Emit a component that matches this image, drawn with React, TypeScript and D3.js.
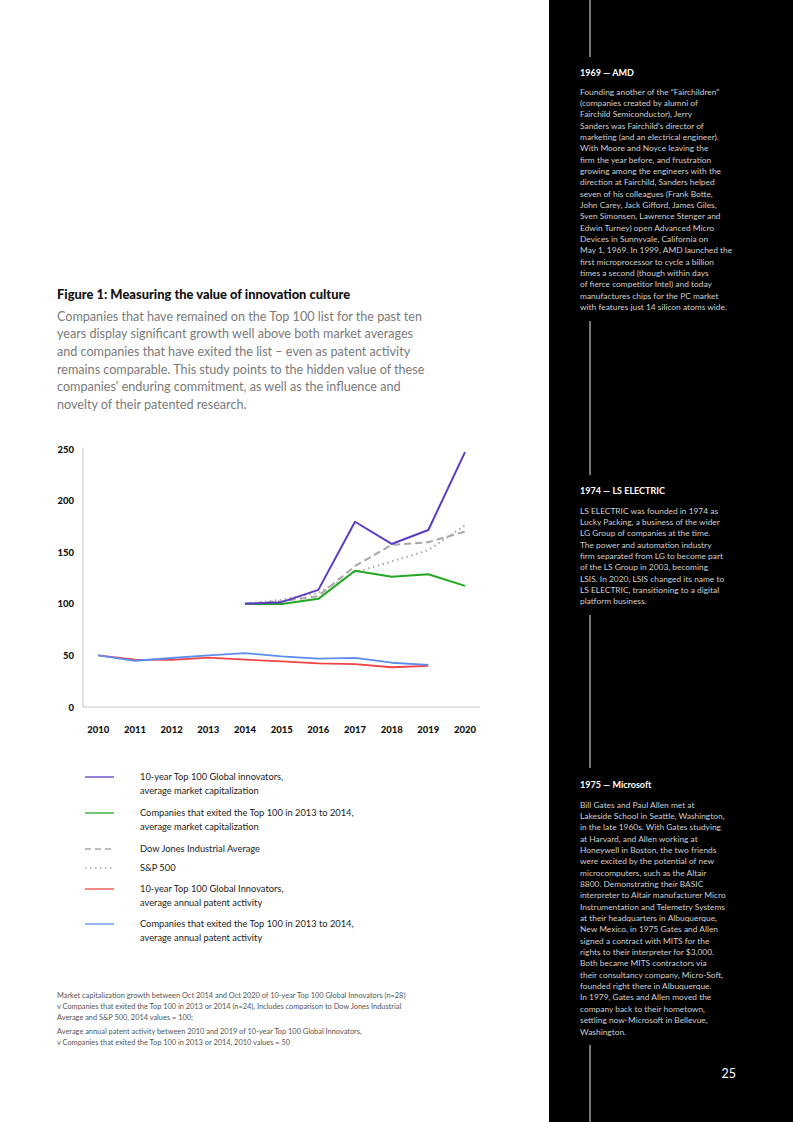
import React from "react";
import * as d3 from "d3";

const years = [2010, 2011, 2012, 2013, 2014, 2015, 2016, 2017, 2018, 2019, 2020];
const yTicks = [0, 50, 100, 150, 200, 250];

const capYears = [2014, 2015, 2016, 2017, 2018, 2019, 2020];
const top100Cap = [100, 101.6, 113.5, 179.5, 158, 171.5, 247];
const exitedCap = [100, 99.7, 104.8, 132, 126.2, 128.7, 117.4];
const dowJones = [100, 102.5, 107.5, 136.5, 157, 159.7, 170];
const sp500 = [100, 104, 110.5, 130.5, 141, 152, 176];

const patentYears = [2010, 2011, 2012, 2013, 2014, 2015, 2016, 2017, 2018, 2019];
const top100Patent = [50, 46, 45.6, 47.8, 45.9, 44.2, 42.3, 41.5, 38.5, 39.8];
const exitedPatent = [50, 44.8, 47.5, 50, 52.3, 49, 46.8, 47.6, 42.9, 40.8];

const legendItems = [
  { lines: ["10-year Top 100 Global innovators,", "average market capitalization"], color: "#5b3cc4", dash: "" },
  { lines: ["Companies that exited the Top 100 in 2013 to 2014,", "average market capitalization"], color: "#22a822", dash: "" },
  { lines: ["Dow Jones Industrial Average"], color: "#a8a8a8", dash: "6,4" },
  { lines: ["S&P 500"], color: "#a8a8a8", dash: "1.5,3.5" },
  { lines: ["10-year Top 100 Global Innovators,", "average annual patent activity"], color: "#f04444", dash: "" },
  { lines: ["Companies that exited the Top 100 in 2013 to 2014,", "average annual patent activity"], color: "#5b8ef0", dash: "" },
];

const subtitleLines = [
  "Companies that have remained on the Top 100 list for the past ten",
  "years display significant growth well above both market averages",
  "and companies that have exited the list \u2013 even as patent activity",
  "remains comparable. This study points to the hidden value of these",
  "companies' enduring commitment, as well as the influence and",
  "novelty of their patented research.",
];

const footnoteLines1 = [
  "Market capitalization growth between Oct 2014 and Oct 2020 of 10-year Top 100 Global Innovators (n=28)",
  "v Companies that exited the Top 100 in 2013 or 2014 (n=24), Includes comparison to Dow Jones Industrial",
  "Average and S&P 500, 2014 values = 100;",
];
const footnoteLines2 = [
  "Average annual patent activity between 2010 and 2019 of 10-year Top 100 Global Innovators,",
  "v Companies that exited the Top 100 in 2013 or 2014, 2010 values = 50",
];

const amdText = [
  "Founding another of the \u201CFairchildren\u201D",
  "(companies created by alumni of",
  "Fairchild Semiconductor), Jerry",
  "Sanders was Fairchild's director of",
  "marketing (and an electrical engineer).",
  "With Moore and Noyce leaving the",
  "firm the year before, and frustration",
  "growing among the engineers with the",
  "direction at Fairchild, Sanders helped",
  "seven of his colleagues (Frank Botte,",
  "John Carey, Jack Gifford, James Giles,",
  "Sven Simonsen, Lawrence Stenger and",
  "Edwin Turney) open Advanced Micro",
  "Devices in Sunnyvale, California on",
  "May 1, 1969. In 1999, AMD launched the",
  "first microprocessor to cycle a billion",
  "times a second (though within days",
  "of fierce competitor Intel) and today",
  "manufactures chips for the PC market",
  "with features just 14 silicon atoms wide.",
];
const lsText = [
  "LS ELECTRIC was founded in 1974 as",
  "Lucky Packing, a business of the wider",
  "LG Group of companies at the time.",
  "The power and automation industry",
  "firm separated from LG to become part",
  "of the LS Group in 2003, becoming",
  "LSIS. In 2020, LSIS changed its name to",
  "LS ELECTRIC, transitioning to a digital",
  "platform business.",
];
const msText = [
  "Bill Gates and Paul Allen met at",
  "Lakeside School in Seattle, Washington,",
  "in the late 1960s. With Gates studying",
  "at Harvard, and Allen working at",
  "Honeywell in Boston, the two friends",
  "were excited by the potential of new",
  "microcomputers, such as the Altair",
  "8800. Demonstrating their BASIC",
  "interpreter to Altair manufacturer Micro",
  "Instrumentation and Telemetry Systems",
  "at their headquarters in Albuquerque,",
  "New Mexico, in 1975 Gates and Allen",
  "signed a contract with MITS for the",
  "rights to their interpreter for $3,000.",
  "Both became MITS contractors via",
  "their consultancy company, Micro-Soft,",
  "founded right there in Albuquerque.",
  "In 1979, Gates and Allen moved the",
  "company back to their hometown,",
  "settling now-Microsoft in Bellevue,",
  "Washington.",
];

const FONT = "Lato, 'Open Sans', sans-serif";

export default function App() {
  const x = d3.scaleLinear().domain([2010, 2020]).range([98.3, 465]);
  const y = d3.scaleLinear().domain([0, 250]).range([707, 449]);
  const line = d3
    .line<[number, number]>()
    .x((d) => x(d[0]))
    .y((d) => y(d[1]));
  const mk = (xs: number[], vs: number[]) => line(xs.map((v, i) => [v, vs[i]] as [number, number])) || "";

  const series = [
    { d: mk(patentYears, top100Patent), color: "#f04444", dash: "", w: 1.8 },
    { d: mk(patentYears, exitedPatent), color: "#5b8ef0", dash: "", w: 1.8 },
    { d: mk(capYears, sp500), color: "#a8a8a8", dash: "1.5,3.5", w: 2 },
    { d: mk(capYears, dowJones), color: "#a8a8a8", dash: "7,4", w: 2 },
    { d: mk(capYears, exitedCap), color: "#22a822", dash: "", w: 2 },
    { d: mk(capYears, top100Cap), color: "#5b3cc4", dash: "", w: 2 },
  ];

  const legendY = [777, 813, 849, 868, 889, 924];

  const block = (title: string, lines: string[], titleY: number, bodyY: number) => (
    <g>
      <text x={580} y={titleY} fill="#ffffff" fontWeight={700} fontSize={9}>
        {title}
      </text>
      {lines.map((l, i) => (
        <text key={i} x={580} y={bodyY + i * 11.35} fill="#cfcfcf" fontSize={8.4}>
          {l}
        </text>
      ))}
    </g>
  );

  return (
    <div style={{ position: "absolute", left: 0, top: 0 }}>
      <svg width={793} height={1122} style={{ display: "block", fontFamily: FONT }}>
        <rect x={0} y={0} width={793} height={1122} fill="#ffffff" />
        <rect x={549} y={0} width={244} height={1122} fill="#000000" />
        {[
          [0, 57],
          [321, 475],
          [615, 768],
          [1045, 1122],
        ].map(([a, b], i) => (
          <line key={i} x1={590} x2={590} y1={a} y2={b} stroke="#a0a0a0" strokeWidth={1.5} />
        ))}
        {block("1969 \u2014 AMD", amdText, 75.5, 94.5)}
        {block("1974 \u2014 LS ELECTRIC", lsText, 494, 513.5)}
        {block("1975 \u2014 Microsoft", msText, 788, 807.5)}
        <text x={736} y={1078} fill="#ffffff" fontSize={12.5} textAnchor="end">
          25
        </text>

        <text x={57} y={299} fill="#111" fontWeight={900} fontSize={12.9}>
          Figure 1: Measuring the value of innovation culture
        </text>
        {subtitleLines.map((l, i) => (
          <text key={i} x={57} y={320.5 + i * 17.7} fill="#7a7a7a" fontSize={12.6}>
            {l}
          </text>
        ))}

        {/* axes */}
        <line x1={83} x2={83} y1={448} y2={707} stroke="#c4c4c4" strokeWidth={1} />
        <line x1={83} x2={480} y1={707} y2={707} stroke="#c4c4c4" strokeWidth={1} />
        {yTicks.map((t) => (
          <text key={t} x={74} y={y(t) + 3.5} textAnchor="end" fontSize={9.5} fontWeight={900} fill="#111">
            {t}
          </text>
        ))}
        {years.map((t) => (
          <text key={t} x={x(t)} y={733} textAnchor="middle" fontSize={9.5} fontWeight={900} fill="#111">
            {t}
          </text>
        ))}

        {series.map((s, i) => (
          <path
            key={i}
            d={s.d}
            fill="none"
            stroke={s.color}
            strokeWidth={s.w}
            strokeDasharray={s.dash || undefined}
            strokeLinejoin="round"
          />
        ))}

        {/* legend */}
        {legendItems.map((it, i) => (
          <g key={i}>
            <line x1={85} x2={114} y1={legendY[i]} y2={legendY[i]} stroke={it.color} strokeWidth={1.3} strokeDasharray={it.dash || undefined} />
            {it.lines.map((l, j) => (
              <text key={j} x={140} y={legendY[i] + 3.3 + j * 13.8} fontSize={9.3} fill="#222">
                {l}
              </text>
            ))}
          </g>
        ))}

        {/* footnotes */}
        {footnoteLines1.map((l, i) => (
          <text key={i} x={57} y={998 + i * 10.8} fontSize={7.4} fill="#555">
            {l}
          </text>
        ))}
        {footnoteLines2.map((l, i) => (
          <text key={i} x={57} y={1033.5 + i * 11} fontSize={7.4} fill="#555">
            {l}
          </text>
        ))}
      </svg>
    </div>
  );
}
